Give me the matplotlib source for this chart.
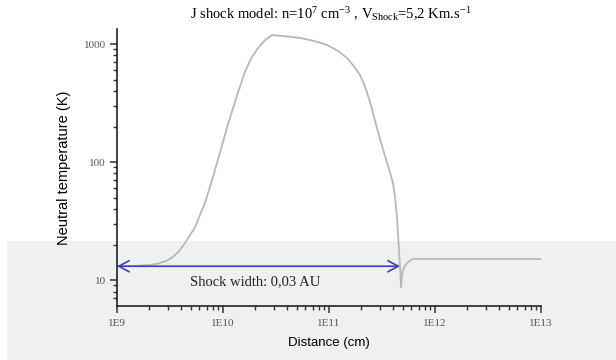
import matplotlib
matplotlib.use("Agg")
import matplotlib.pyplot as plt
import matplotlib.ticker as mticker
from matplotlib.patches import Rectangle

# Profil de température du gaz neutre à travers le choc J
distance_cm = [1.0e9, 1.5e9, 2.0e9, 2.38e9, 2.9e9, 3.37e9, 3.9e9, 4.38e9, 5.45e9,
               6.76e9, 8.05e9, 9.4e9, 1.11e10, 1.36e10, 1.61e10, 1.85e10,
               2.14e10, 2.50e10, 2.90e10, 4.0e10, 5.32e10, 6.62e10, 8.0e10,
               9.57e10, 1.20e11, 1.48e11, 1.75e11, 1.96e11, 2.20e11, 2.44e11,
               2.90e11, 3.35e11, 3.76e11, 4.02e11, 4.20e11, 4.38e11, 4.57e11,
               4.68e11, 4.78e11, 4.88e11, 4.99e11, 5.2e11, 5.45e11, 5.8e11,
               6.20e11, 1.11e12, 1.0e13]
temperature_K = [13.1, 13.2, 13.4, 13.7, 14.5, 15.7, 17.8, 20.6, 28.1,
                 45, 74.7, 122, 206, 370, 580, 760,
                 925, 1080, 1190, 1160, 1125, 1080, 1035,
                 981, 880, 761, 635, 546, 430, 322,
                 180, 115, 82, 66, 50, 34, 18,
                 12.9, 8.7, 10.8, 12.2, 13.2, 13.9, 14.6,
                 15.1, 15.1, 15.1]

# largeur du choc (flèche double)
shock_start = 1.0e9
shock_end = 4.68e11
shock_T = 13.1
shock_label = "Shock width: 0,03 AU"

xticks = [1e9, 1e10, 1e11, 1e12, 1e13]
xticklabels = ["1E9", "1E10", "1E11", "1E12", "1E13"]
yticks = [10, 100, 1000]

plt.rcParams["mathtext.fontset"] = "custom"
plt.rcParams["mathtext.rm"] = "Liberation Serif"
plt.rcParams["mathtext.it"] = "Liberation Serif:italic"

fig = plt.figure(figsize=(6.16, 3.6), dpi=100)
fig.patch.set_facecolor("white")

# bande grise en bas de la figure, derrière les axes
band = Rectangle((7 / 616, 0), 1, 119 / 360, transform=fig.transFigure,
                 facecolor="#f0f0f0", edgecolor="none", zorder=-10)
fig.add_artist(band)

ax = fig.add_axes([117 / 616, 54 / 360, 424 / 616, 277 / 360])
ax.patch.set_visible(False)

ax.plot(distance_cm, temperature_K, color="#b8b8b8", lw=1.3)

ax.annotate("", xy=(shock_end, shock_T), xytext=(shock_start, shock_T),
            arrowprops=dict(arrowstyle="<->,head_length=0.75,head_width=0.4",
                            color="#3c40c0", lw=1.2, shrinkA=0, shrinkB=0))
ax.text(2.0e10, 9.6, shock_label, ha="center", va="center",
        fontsize=10.5, family="Liberation Serif", color="#222222")

ax.set_xscale("log")
ax.set_yscale("log")
ax.set_xlim(1e9, 1e13)
ax.set_ylim(6.03, 1340)

ax.set_xticks(xticks)
ax.set_xticklabels(xticklabels)
ax.set_yticks(yticks)
ax.set_yticklabels([str(v) for v in yticks])
ax.xaxis.set_minor_locator(mticker.LogLocator(base=10, subs=range(2, 10), numticks=20))
ax.yaxis.set_minor_locator(mticker.LogLocator(base=10, subs=range(2, 10), numticks=20))
ax.xaxis.set_minor_formatter(mticker.NullFormatter())
ax.yaxis.set_minor_formatter(mticker.NullFormatter())

ax.tick_params(which="major", direction="out", length=5, width=1.1, color="#333333",
               labelsize=8, labelcolor="#555555", pad=3)
ax.tick_params(which="minor", direction="out", length=3, width=1.0, color="#333333")
for lab in ax.get_xticklabels() + ax.get_yticklabels():
    lab.set_family("Liberation Serif")
ax.tick_params(axis="x", pad=4)

for side in ["top", "right"]:
    ax.spines[side].set_visible(False)
for side in ["left", "bottom"]:
    ax.spines[side].set_linewidth(1.2)
    ax.spines[side].set_color("#222222")

ax.set_xlabel("Distance (cm)", family="Liberation Sans", fontsize=9.5, labelpad=7)
ax.set_ylabel("Neutral temperature (K)", family="Liberation Sans", fontsize=10.5, labelpad=9)

fig.text(331 / 616, 1 - 14 / 360,
         r"J shock model: n=10$^{7}$ cm$^{-3}$ , V$_{\mathrm{Shock}}$=5,2 Km.s$^{-1}$",
         ha="center", va="center", fontsize=10.5, family="Liberation Serif")

fig.savefig("out.png", dpi=100)
